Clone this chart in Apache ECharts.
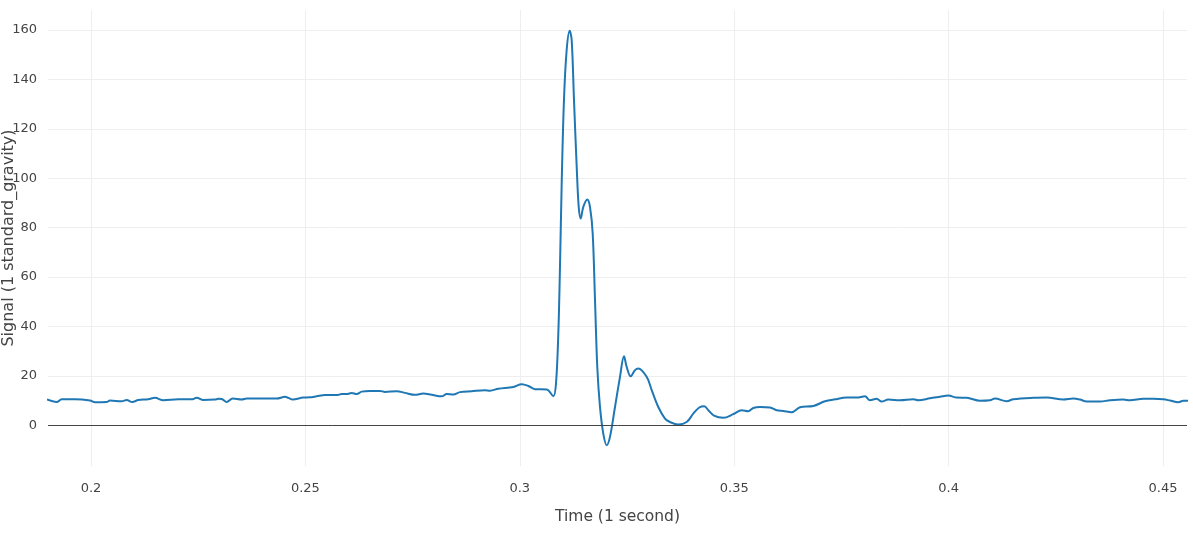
<!DOCTYPE html>
<html>
<head>
<meta charset="utf-8">
<script src="https://cdn.jsdelivr.net/npm/echarts@6/dist/echarts.min.js"></script>
<style>html,body{margin:0;padding:0;background:#fff;}#c{width:1193px;height:535px;}</style>
</head>
<body>
<div id="c"></div>
<script>
const times = [0.18974,0.1920,0.19317,0.19627,0.19977,0.20093,0.20366,0.20443,0.20716,0.20833,0.20963,0.21103,0.21336,0.21493,0.21686,0.22036,0.22348,0.22465,0.22619,0.22892,0.22969,0.23048,0.23165,0.23305,0.23514,0.23631,0.24331,0.24524,0.24601,0.24704,0.24951,0.25107,0.25263,0.25457,0.2573,0.25847,0.25963,0.2608,0.26196,0.26313,0.26507,0.2674,0.26856,0.27129,0.27323,0.27556,0.2775,0.27945,0.28179,0.28295,0.28449,0.28605,0.28878,0.29188,0.29305,0.29499,0.29849,0.30044,0.30198,0.30354,0.30627,0.30781,0.30844,0.30898,0.30937,0.30977,0.3103,0.31093,0.31164,0.3121,0.31264,0.31327,0.31374,0.3142,0.31481,0.31574,0.31637,0.317,0.31754,0.31807,0.3187,0.31947,0.32026,0.32103,0.3222,0.32337,0.3243,0.32493,0.32586,0.32687,0.32764,0.32959,0.33076,0.3323,0.33386,0.33503,0.33696,0.33892,0.34046,0.34186,0.34303,0.34396,0.34529,0.34746,0.34979,0.35175,0.35329,0.35445,0.35601,0.35835,0.35991,0.36145,0.3634,0.36535,0.36845,0.37118,0.37351,0.37624,0.37857,0.3805,0.38167,0.38323,0.3844,0.38594,0.38867,0.39177,0.39294,0.39566,0.39799,0.39993,0.40189,0.40422,0.40732,0.40966,0.41082,0.41355,0.41509,0.41975,0.42288,0.42675,0.42908,0.43064,0.43221,0.43531,0.43764,0.44074,0.44231,0.44541,0.44774,0.45007,0.45163,0.45357,0.45474,0.45583];
const signal = [10.4,9.4,10.5,10.5,10.0,9.3,9.4,10.0,9.7,10.2,9.4,10.2,10.5,11.1,10.1,10.5,10.5,11.1,10.2,10.4,10.7,10.6,9.4,10.8,10.4,10.8,10.8,11.5,11.1,10.4,11.2,11.3,11.7,12.2,12.2,12.6,12.6,13.1,12.6,13.6,13.9,13.9,13.5,13.8,13.1,12.3,12.8,12.3,11.7,12.6,12.4,13.4,13.8,14.2,14.0,14.8,15.5,16.6,15.9,14.6,14.5,11.7,16.9,37,64,98,131.6,151.9,159.7,155.9,131.6,104.6,88.4,83.7,88.4,91.4,88.4,77.6,50.6,23.6,7.4,-3.4,-8.1,-4.7,7.4,19.6,27.9,23.6,19.8,22.3,23.0,19.6,14.2,7.4,2.7,1.3,0.3,1.3,4.7,7.2,7.7,6.1,3.9,3.0,4.5,6.1,5.7,7.0,7.4,7.2,6.1,5.8,5.3,7.3,7.8,9.7,10.5,11.2,11.2,11.7,10.1,10.7,9.6,10.4,10.1,10.5,10.1,10.9,11.5,12.0,11.2,11.1,9.9,10.1,10.8,9.7,10.5,11.1,11.2,10.4,10.8,10.4,9.6,9.6,10.1,10.4,10.1,10.7,10.7,10.5,10.0,9.3,9.9,9.9];
const xTicks = [0.2,0.25,0.3,0.35,0.4,0.45];
const yTicks = [0,20,40,60,80,100,120,140,160];
const xTitle = 'Time (1 second)';
const yTitle = 'Signal (1 standard_gravity)';

const font = '"DejaVu Sans", Verdana, sans-serif';
const chart = echarts.init(document.getElementById('c'), null, {renderer: 'canvas'});
chart.setOption({
  animation: false,
  backgroundColor: '#fff',
  grid: {left: 48, right: 6, top: 10, bottom: 69, containLabel: false, outerBoundsMode: 'none'},
  xAxis: {
    type: 'value', min: 0.18997, max: 0.4556,
    name: xTitle, nameLocation: 'middle', nameGap: 43, nameMoveOverlap: false,
    nameTextStyle: {color: '#444', fontSize: 15.5, fontFamily: font},
    axisLine: {show: false}, axisTick: {show: false, customValues: xTicks},
    axisLabel: {customValues: xTicks, color: '#444', fontSize: 13, fontFamily: font, margin: 16,
      formatter: v => String(Math.round(v*100)/100)},
    splitLine: {show: true, lineStyle: {color: '#eee', width: 1}}
  },
  yAxis: {
    type: 'value', min: -16.5, max: 168.1,
    name: yTitle, nameLocation: 'middle', nameGap: 31, nameMoveOverlap: false,
    nameTextStyle: {color: '#444', fontSize: 16, fontFamily: font},
    axisLine: {show: false}, axisTick: {show: false, customValues: yTicks},
    axisLabel: {customValues: yTicks, color: '#444', fontSize: 13, fontFamily: font, margin: 11},
    splitLine: {show: true, lineStyle: {color: '#eee', width: 1}}
  },
  series: [{
    type: 'line',
    data: times.map((t, i) => [t, signal[i]]),
    showSymbol: false,
    smooth: 0.35,
    clip: true,
    lineStyle: {color: '#1f77b4', width: 2},
    itemStyle: {color: '#1f77b4'},
    markLine: {
      silent: true, symbol: 'none', label: {show: false},
      lineStyle: {color: '#444', width: 1, type: 'solid'},
      data: [{yAxis: 0}]
    },
    z: 3
  }]
});
</script>
</body>
</html>
